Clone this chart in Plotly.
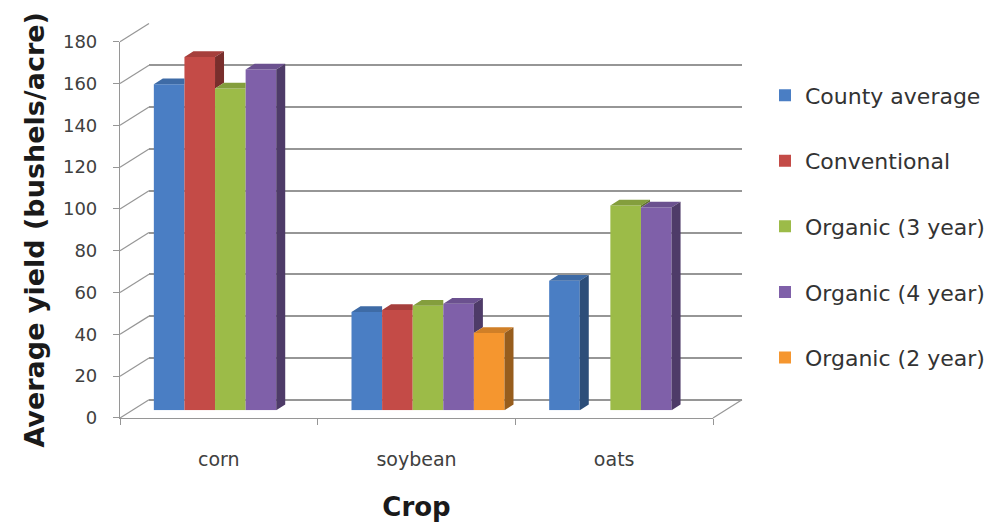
import plotly.graph_objects as go

# ---- data -------------------------------------------------------------
categories = ["corn", "soybean", "oats"]
series_names = ["County average", "Conventional", "Organic (3 year)",
                "Organic (4 year)", "Organic (2 year)"]
county_average = [156, 47, 62]
conventional = [169, 48, None]
organic_3yr = [154, 50, 98]
organic_4yr = [163, 51, 97]
organic_2yr = [None, 37, None]
y_ticks = [0, 20, 40, 60, 80, 100, 120, 140, 160, 180]

series_values = [county_average, conventional, organic_3yr, organic_4yr, organic_2yr]

# ---- styling ----------------------------------------------------------
front_colors = ["#4A7EC4", "#C44B47", "#9CBB48", "#7F60A9", "#F5962F"]
FONT = "DejaVu Sans"
GRID = "#969696"


def shade(hex_color, f):
    h = hex_color.lstrip("#")
    r, g, b = (int(h[i:i + 2], 16) for i in (0, 2, 4))
    return "rgb({},{},{})".format(int(r * f), int(g * f), int(b * f))


# ---- pseudo-3D geometry (pixels in a 992 x 523 page) --------------
W, H = 992, 523
Y_MAX = 180
SPAN = 392                      # vertical pixels for 0..180

FRONT = dict(left=120, right=713, base=424)
WALL = dict(left=149, right=742, base=405)
BARS = dict(left=131.5, right=724.5, base=416)
DEPTH_PX = (9, 6)               # top / side face offset of each column


def xdom(p):
    return [p["left"] / W, p["right"] / W]


def ydom(p):
    return [1 - p["base"] / H, 1 - (p["base"] - SPAN) / H]


def px_y(plane, v):
    return 1 - (plane["base"] - v * SPAN / Y_MAX) / H


fig = go.Figure()

# back wall (gridlines only)
fig.add_trace(go.Scatter(x=[None], y=[None], xaxis="x", yaxis="y",
                         showlegend=False, hoverinfo="skip"))

# columns
n = len(series_values)
group_width = 0.774
slot = group_width / n
cat_idx = list(range(len(categories)))
px_per_x = (BARS["right"] - BARS["left"]) / len(categories)
dx = DEPTH_PX[0] / px_per_x
dy = DEPTH_PX[1] * Y_MAX / SPAN

for k, (name, vals) in enumerate(zip(series_names, series_values)):
    off = -group_width / 2 + k * slot
    fig.add_trace(go.Bar(
        x=cat_idx, y=vals, width=slot, offset=off, name=name,
        marker=dict(color=front_colors[k], line=dict(width=0)),
        xaxis="x2", yaxis="y2", legendgroup=name,
    ))

for k, vals in enumerate(series_values):
    off = -group_width / 2 + k * slot
    top_x, top_y, side_x, side_y = [], [], [], []
    for i, v in enumerate(vals):
        if v is None:
            continue
        xl = i + off
        xr = xl + slot
        nxt = series_values[k + 1][i] if k + 1 < n else None
        h_next = nxt if nxt is not None else 0
        if h_next > v:
            top_x += [xl, xr, xr, xl + dx, xl, None]
            top_y += [v, v, v + dy, v + dy, v, None]
        else:
            top_x += [xl, xr, xr + dx, xl + dx, xl, None]
            top_y += [v, v, v + dy, v + dy, v, None]
            side_x += [xr, xr, xr + dx, xr + dx, xr, None]
            side_y += [h_next, v, v + dy, h_next + dy, h_next, None]
    fig.add_trace(go.Scatter(
        x=top_x, y=top_y, mode="lines", fill="toself",
        fillcolor=shade(front_colors[k], 0.85),
        line=dict(width=0, color=shade(front_colors[k], 0.85)),
        xaxis="x2", yaxis="y2", showlegend=False, hoverinfo="skip"))
    if side_x:
        fig.add_trace(go.Scatter(
            x=side_x, y=side_y, mode="lines", fill="toself",
            fillcolor=shade(front_colors[k], 0.62),
            line=dict(width=0, color=shade(front_colors[k], 0.62)),
            xaxis="x2", yaxis="y2", showlegend=False, hoverinfo="skip"))

# front plane (value axis and category axis)
fig.add_trace(go.Scatter(x=[None], y=[None], xaxis="x3", yaxis="y3",
                         showlegend=False, hoverinfo="skip"))

# connectors between the front axis and the back wall
shapes = []
for v in y_ticks:
    shapes.append(dict(type="line", xref="paper", yref="paper", layer="below",
                       x0=FRONT["left"] / W, y0=px_y(FRONT, v),
                       x1=WALL["left"] / W, y1=px_y(WALL, v),
                       line=dict(color=GRID, width=1.2)))
shapes.append(dict(type="line", xref="paper", yref="paper", layer="below",
                   x0=FRONT["right"] / W, y0=px_y(FRONT, 0),
                   x1=WALL["right"] / W, y1=px_y(WALL, 0),
                   line=dict(color=GRID, width=1.2)))

hidden = dict(visible=False, fixedrange=True)
fig.update_layout(
    width=W, height=H,
    margin=dict(l=0, r=0, t=0, b=0),
    paper_bgcolor="white",
    plot_bgcolor="rgba(0,0,0,0)",
    barmode="overlay",
    font=dict(family=FONT, color="#404040"),
    shapes=shapes,
    xaxis=dict(domain=xdom(WALL), range=[-0.5, 2.5], anchor="y", **hidden),
    yaxis=dict(domain=ydom(WALL), range=[0, Y_MAX], anchor="x",
               showgrid=True, gridcolor=GRID, gridwidth=1.6,
               zeroline=True, zerolinecolor=GRID, zerolinewidth=1.6,
               tickvals=y_ticks, showticklabels=False, ticks="",
               showline=False, fixedrange=True),
    xaxis2=dict(domain=xdom(BARS), range=[-0.5, 2.5], anchor="y2", **hidden),
    yaxis2=dict(domain=ydom(BARS), range=[0, Y_MAX], anchor="x2", **hidden),
    xaxis3=dict(domain=xdom(FRONT), range=[-0.5, 2.5], anchor="y3",
                tickvals=cat_idx, ticktext=categories, ticks="",
                showline=True, linecolor=GRID, linewidth=1.2,
                showgrid=False, zeroline=False,
                tickfont=dict(size=19, color="#404040"),
                ticklabelstandoff=24,
                minor=dict(tickvals=[-0.5, 0.5, 1.5, 2.5], ticks="outside",
                           ticklen=6, tickcolor=GRID, tickwidth=1.2),
                title=dict(text="<b>Crop</b>", standoff=28,
                           font=dict(size=26, color="#1a1a1a")),
                fixedrange=True),
    yaxis3=dict(domain=ydom(FRONT), range=[0, Y_MAX], anchor="x3",
                tickvals=y_ticks, ticks="outside", ticklen=6,
                tickcolor=GRID, tickwidth=1.2,
                showline=True, linecolor=GRID, linewidth=1.2,
                showgrid=False, zeroline=False,
                tickfont=dict(size=18, color="#404040"),
                ticklabelstandoff=12,
                title=dict(text="<b>Average yield (bushels/acre)</b>", standoff=10,
                           font=dict(size=27, color="#1a1a1a")),
                fixedrange=True),
    legend=dict(x=765 / W, xanchor="left", y=1 - 66 / H, yanchor="top",
                traceorder="grouped", tracegroupgap=34,
                font=dict(size=22, color="#333333"),
                bgcolor="rgba(0,0,0,0)"),
)

fig.write_html("out.html")
